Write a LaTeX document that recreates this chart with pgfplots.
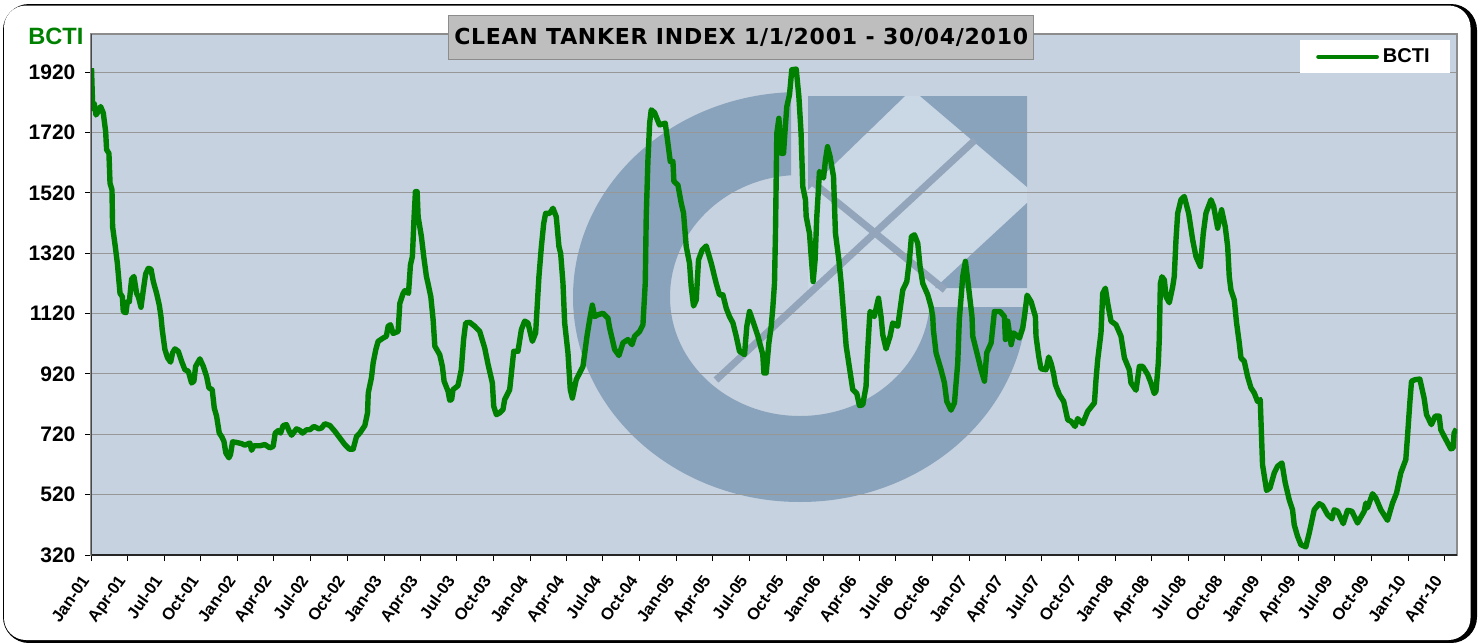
\documentclass[border=0pt]{standalone}
\usepackage{pgfplots}
\pgfplotsset{compat=1.18}
\usepackage{fontspec}
\setmainfont{Liberation Sans}
\newfontfamily\titlefont[LetterSpace=3.3]{DejaVu Sans}
\definecolor{plotbg}{HTML}{C6D2DF}
\definecolor{logod}{HTML}{8AA3BC}
\definecolor{logol}{HTML}{CAD7E4}
\definecolor{logoline}{HTML}{92A5BA}
\definecolor{gridc}{HTML}{979797}
\definecolor{borderc}{HTML}{8C8C8C}
\definecolor{titlebg}{HTML}{BEBEBE}
\definecolor{bctigreen}{HTML}{008000}
\begin{document}
\begin{tikzpicture}
\begin{scope}[x=0.5pt,y=-0.5pt]
\path (0,0) rectangle (1480,643);
\fill[black,rounded corners=13pt] (3,4) rectangle (1477,643);
\fill[white,rounded corners=11pt] (4,5.5) rectangle (1470.5,640);
\fill[plotbg] (91.5,33.5) rectangle (1457,555);
% watermark logo
\begin{scope}
\clip (560,307) rectangle (1040,520);
\fill[logod,even odd rule] (800,297) ellipse [x radius=227,y radius=205] (800,297) ellipse [x radius=130,y radius=119];
\end{scope}
\begin{scope}
\clip (560,90) rectangle (791,307);
\fill[logod,even odd rule] (800,297) ellipse [x radius=227,y radius=205] (800,297) ellipse [x radius=130,y radius=122];
\end{scope}
\fill[logol] (808,96) rectangle (1027,290);
\fill[logod] (808,96) -- (905,96) -- (808,190) -- cycle;
\fill[logod] (920,96) -- (1027,96) -- (1027,187) -- cycle;
\fill[logod] (1027,203) -- (1027,288) -- (935,288) -- cycle;
\draw[logoline,line width=3.5pt] (716,380) -- (975,140);
\draw[logoline,line width=3.5pt] (810,180) -- (945,290);
\end{scope}
\begin{axis}[
  at={(45.75pt,-277.5pt)},anchor=south west,
  scale only axis,width=682.75pt,height=260.75pt,
  xmin=0,xmax=112,ymin=320,ymax=2048,
  axis line style={draw=borderc,line width=1pt},
  ytick={320,520,720,920,1120,1320,1520,1720,1920},
  xtick={0,2.96,5.95,8.97,12,14.96,17.95,20.97,24,26.96,29.95,32.97,36,38.96,41.95,44.97,48,50.96,53.95,56.97,60,62.96,65.95,68.97,72,74.96,77.95,80.97,84,86.96,89.95,92.97,96,98.96,101.95,104.97,108,110.96},
  xticklabels={Jan-01,Apr-01,Jul-01,Oct-01,Jan-02,Apr-02,Jul-02,Oct-02,Jan-03,Apr-03,Jul-03,Oct-03,Jan-04,Apr-04,Jul-04,Oct-04,Jan-05,Apr-05,Jul-05,Oct-05,Jan-06,Apr-06,Jul-06,Oct-06,Jan-07,Apr-07,Jul-07,Oct-07,Jan-08,Apr-08,Jul-08,Oct-08,Jan-09,Apr-09,Jul-09,Oct-09,Jan-10,Apr-10},
  ymajorgrids,grid style={gridc,line width=0.5pt},
  tick align=outside,tick pos=left,major tick length=3pt,
  tick style={black,line width=0.5pt},
  /pgf/number format/assume math mode=true,
  /pgf/number format/1000 sep={},
  yticklabel style={font=\fontsize{10.5}{12}\selectfont\bfseries,xshift=-1.5pt},
  xticklabel style={font=\fontsize{8.3}{9}\selectfont\bfseries,rotate=55,anchor=north east,xshift=-7.2pt,yshift=2pt,inner sep=1pt},
  legend style={at={(0.9949,0.9875)},anchor=north east,draw=none,fill=white,
    font=\fontsize{10}{11}\selectfont\bfseries,inner xsep=8pt,inner ysep=2pt},
  legend image code/.code={\draw[bctigreen,line width=2.4pt,line cap=round] (0pt,0pt) -- (29pt,0pt);},
  legend cell align=left,
]
\addplot[bctigreen,line width=2.7pt,line join=round,no marks] table {
0 1933
0.1 1800
0.23 1815
0.37 1778
0.56 1790
0.75 1806
0.97 1784
1.16 1723
1.24 1663
1.43 1651
1.52 1552
1.68 1530
1.73 1408
1.95 1342
2.12 1287
2.34 1187
2.53 1176
2.61 1126
2.83 1123
2.94 1159
3.1 1159
3.29 1234
3.48 1243
3.7 1187
3.84 1176
4.06 1141
4.25 1198
4.44 1251
4.66 1270
4.88 1267
5.07 1226
5.34 1187
5.56 1148
5.7 1110
5.8 1067
6.02 1001
6.24 973
6.49 959
6.65 990
6.84 1003
7.12 995
7.39 962
7.66 934
7.94 929
8.21 890
8.4 896
8.54 945
8.89 970
9.17 945
9.44 912
9.63 874
9.9 868
10.07 807
10.26 780
10.48 724
10.67 713
10.86 697
11.02 658
11.27 642
11.4 653
11.57 695
11.9 693
12.31 689
12.58 684
12.99 691
13.13 667
13.32 682
13.81 682
14.22 686
14.63 675
14.9 680
15.07 724
15.31 732
15.51 724
15.72 749
15.99 752
16.22 730
16.41 717
16.82 738
17.09 733
17.31 724
17.64 735
17.91 735
18.24 746
18.65 738
18.87 741
19.14 755
19.55 749
19.96 730
20.37 708
20.78 686
21.14 671
21.46 671
21.74 713
22.01 724
22.42 749
22.64 791
22.7 857
22.96 907
23.1 956
23.32 1001
23.51 1028
23.92 1039
24.19 1045
24.33 1078
24.52 1083
24.74 1054
25.15 1061
25.29 1154
25.56 1187
25.7 1196
26.0 1187
26.16 1281
26.32 1309
26.46 1441
26.57 1524
26.71 1524
26.79 1441
27.06 1375
27.25 1309
27.47 1243
27.6 1220
27.83 1176
28.02 1100
28.16 1012
28.56 984
28.78 945
28.92 896
29.25 862
29.38 833
29.54 835
29.65 868
30.06 881
30.33 934
30.52 1034
30.69 1089
31.02 1091
31.43 1078
31.84 1061
32.25 1006
32.53 951
32.88 890
32.99 813
33.21 785
33.48 791
33.75 802
33.89 835
34.3 868
34.63 995
34.98 995
35.26 1067
35.53 1095
35.8 1089
36.16 1028
36.43 1056
36.7 1243
36.9 1342
37.09 1419
37.25 1452
37.58 1452
37.85 1469
38.12 1441
38.34 1342
38.48 1320
38.67 1221
38.81 1089
39.08 990
39.27 868
39.44 840
39.76 901
40.31 945
40.64 1045
40.86 1100
41.08 1148
41.27 1110
41.54 1116
41.95 1121
42.36 1105
42.5 1072
42.91 1001
43.26 981
43.59 1023
44 1034
44.33 1017
44.55 1045
44.96 1061
45.23 1083
45.42 1221
45.5 1441
45.64 1629
45.78 1751
45.91 1795
46.18 1786
46.59 1745
47.06 1751
47.28 1684
47.47 1624
47.69 1624
47.77 1558
48.1 1546
48.37 1486
48.56 1453
48.78 1342
49.05 1287
49.19 1209
49.38 1145
49.6 1165
49.79 1298
50.09 1331
50.42 1344
50.83 1287
51.24 1220
51.51 1182
51.79 1182
52.06 1138
52.33 1110
52.61 1089
52.88 1045
53.15 995
53.56 984
53.75 1078
53.97 1127
54.3 1089
54.66 1045
55.06 984
55.15 923
55.34 923
55.56 1023
55.75 1078
55.88 1138
56.02 1220
56.1 1386
56.21 1717
56.38 1767
56.57 1651
56.76 1651
56.87 1717
57.03 1806
57.25 1845
57.44 1928
57.8 1930
58.02 1839
58.2 1718
58.34 1541
58.56 1497
58.62 1441
58.89 1386
59.03 1309
59.19 1226
59.35 1298
59.49 1441
59.71 1591
60.04 1569
60.2 1629
60.37 1673
60.58 1640
60.86 1574
61.02 1386
61.3 1298
61.49 1220
61.62 1154
61.9 1012
62.11 956
62.44 868
62.77 855
62.99 815
63.26 818
63.53 879
63.62 968
63.81 1100
63.86 1127
64.2 1110
64.55 1171
64.76 1110
64.9 1050
65.17 1003
65.5 1045
65.72 1089
66.13 1078
66.54 1198
66.87 1226
67.09 1298
67.25 1375
67.5 1381
67.77 1353
67.96 1276
68.18 1220
68.59 1182
68.86 1143
69.0 1110
69.05 1067
69.27 990
69.68 934
69.96 890
70.15 829
70.5 800
70.78 824
71.05 956
71.18 1100
71.46 1243
71.68 1293
71.87 1231
72.06 1165
72.22 1110
72.28 1045
72.69 979
72.96 934
73.24 896
73.43 990
73.79 1023
74.06 1127
74.52 1127
74.88 1110
74.96 1034
75.15 1095
75.43 1017
75.64 1056
76.11 1039
76.38 1072
76.52 1110
76.74 1181
77.07 1159
77.42 1110
77.47 1045
77.69 979
77.88 937
78.29 934
78.51 976
78.7 956
78.9 923
79.06 885
79.39 851
79.74 829
80.07 768
80.34 763
80.67 746
80.89 772
81.3 755
81.71 796
82.26 824
82.39 901
82.53 967
82.8 1056
82.94 1187
83.16 1204
83.35 1154
83.62 1095
84.03 1083
84.44 1045
84.72 973
85.12 934
85.26 890
85.67 866
85.95 945
86.22 945
86.63 918
86.9 890
87.17 855
87.31 863
87.5 956
87.58 1034
87.67 1220
87.8 1242
88.0 1231
88.13 1176
88.4 1156
88.68 1209
88.81 1243
88.95 1364
89.09 1452
89.36 1497
89.63 1508
89.99 1452
90.32 1364
90.59 1309
90.95 1276
91.19 1386
91.41 1453
91.82 1497
92.04 1475
92.37 1403
92.69 1464
92.99 1408
93.19 1342
93.32 1243
93.46 1198
93.73 1165
93.92 1089
94.14 1023
94.28 973
94.55 962
94.82 912
95.1 874
95.37 857
95.64 829
95.86 835
96.05 619
96.38 534
96.66 542
97.01 592
97.28 614
97.64 625
97.91 559
98.24 503
98.51 470
98.65 420
98.92 382
99.2 354
99.6 347
99.88 393
100.29 470
100.7 490
100.97 484
101.38 454
101.74 440
101.93 470
102.2 465
102.67 424
103.02 468
103.38 465
103.84 426
104.39 465
104.52 492
104.66 476
105.07 523
105.34 509
105.75 470
106.3 435
106.71 492
107.04 525
107.39 592
107.8 636
107.94 713
108.13 824
108.27 896
108.57 901
108.95 903
109.3 840
109.5 785
109.9 752
110.21 780
110.54 780
110.67 735
110.95 713
111.49 672
111.68 674
111.76 724
111.95 738
};
\addlegendentry{BCTI}
\draw[black!85,line width=0.7pt] (rel axis cs:0,1) -- (rel axis cs:0,0) -- (rel axis cs:1,0);
\end{axis}
\begin{scope}[x=0.5pt,y=-0.5pt]
\node[draw=borderc,fill=titlebg,line width=0.5pt,minimum width=292.5pt,minimum height=22pt,inner sep=0pt,
  font=\titlefont\fontsize{11}{12}\selectfont\bfseries] at (741.2,37.3) {CLEAN TANKER INDEX 1/1/2001 - 30/04/2010};
\node[text=bctigreen,font=\fontsize{11.8}{13}\selectfont\bfseries,inner sep=0pt,anchor=west] at (28,36.5) {BCTI};
\end{scope}
\end{tikzpicture}
\end{document}
